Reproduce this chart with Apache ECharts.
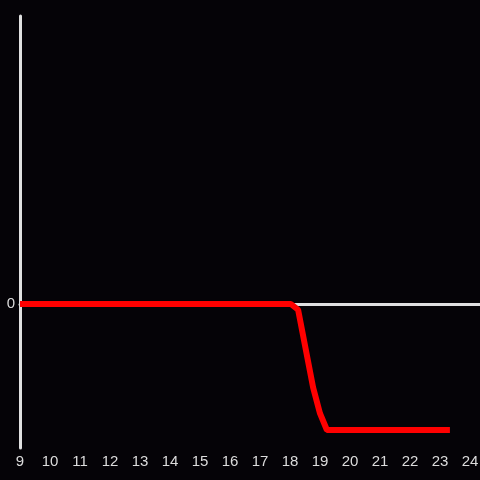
<!DOCTYPE html>
<html><head><meta charset="utf-8">
<script src="https://cdn.jsdelivr.net/npm/echarts@6/dist/echarts.min.js"></script>
<style>html,body{margin:0;padding:0;background:#050307;}#c{width:480px;height:480px;}</style>
</head><body><div id="c"></div>
<script>
const xValues = [9, 18.03, 18.27, 18.77, 19.0, 19.23, 23.33];
const yValues = [0, 0, -0.04, -0.58, -0.76, -0.875, -0.875];
const xTicks = [9,10,11,12,13,14,15,16,17,18,19,20,21,22,23,24];
const yTickLabels = ['0'];

const chart = echarts.init(document.getElementById('c'));
const axisColor = '#e0e0e0';
const labelColor = '#dcdcdc';
chart.setOption({
  backgroundColor: '#050307',
  animation: false,
  grid: {left: 20, right: 0, top: 16, bottom: 32, containLabel: false, outerBoundsMode: 'none'},
  xAxis: [{
    type: 'value', min: 9, max: 24.333, interval: 1,
    axisLine: {onZero: true, lineStyle: {color: axisColor, width: 3}},
    axisTick: {show: false}, axisLabel: {show: false}, splitLine: {show: false}
  }, {
    type: 'value', min: 9, max: 24.333, interval: 1, position: 'bottom',
    axisLine: {show: false, onZero: false},
    axisTick: {show: false}, splitLine: {show: false},
    axisLabel: {color: labelColor, fontSize: 15, margin: 6, fontFamily: 'Liberation Sans, Arial, sans-serif',
      formatter: v => xTicks.includes(v) ? String(v) : ''}
  }],
  yAxis: {
    type: 'value', min: -1, max: 2, interval: 1,
    axisLine: {show: true, onZero: false, lineStyle: {color: axisColor, width: 3}},
    axisTick: {show: false}, splitLine: {show: false},
    axisLabel: {color: labelColor, fontSize: 15, margin: 5, padding: [5, 0, 0, 0], fontFamily: 'Liberation Sans, Arial, sans-serif',
      formatter: v => yTickLabels.includes(String(v)) ? String(v) : ''}
  },
  series: [{
    type: 'line', xAxisIndex: 0,
    data: xValues.map((x, i) => [x, yValues[i]]),
    showSymbol: false, symbol: 'none',
    lineStyle: {color: '#ff0000', width: 6}
  }]
});
</script></body></html>
